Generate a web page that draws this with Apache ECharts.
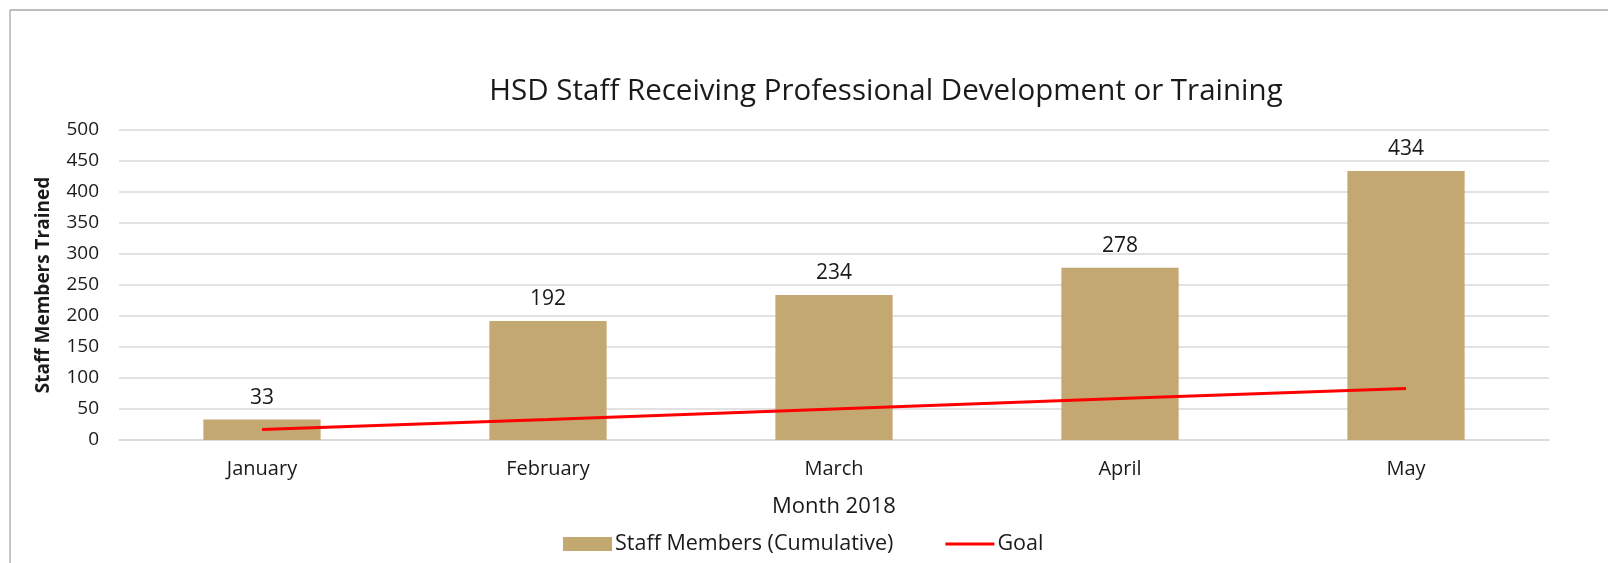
<!DOCTYPE html>
<html>
<head>
<meta charset="utf-8">
<script src="https://cdn.jsdelivr.net/npm/echarts@6/dist/echarts.min.js"></script>
<style>
  html, body { margin: 0; padding: 0; background: #fff; }
  #chart { width: 1608px; height: 563px; }
</style>
</head>
<body>
<div id="chart"></div>
<script>
const months = ['January', 'February', 'March', 'April', 'May']
const staffTrained = [33, 192, 234, 278, 434]
const goal = [17, 33, 50, 67, 83]
const yTicks = { min: 0, max: 500, interval: 50 }

const font = '"Open Sans", Lato, sans-serif'
const chart = echarts.init(document.getElementById('chart'))

chart.setOption({
  animation: false,
  backgroundColor: '#fff',
  textStyle: { fontFamily: font },
  title: {
    text: 'HSD Staff Receiving Professional Development or Training',
    left: 881,
    textAlign: 'center',
    top: 72,
    textStyle: { fontFamily: font, fontSize: 29.5, fontWeight: 'normal', color: '#1a1a1a' }
  },
  graphic: [
    { type: 'line', shape: { x1: 10, y1: 10, x2: 1608, y2: 10 }, style: { stroke: '#a6a6a6', lineWidth: 1.3 } },
    { type: 'line', shape: { x1: 10, y1: 10, x2: 10, y2: 563 }, style: { stroke: '#a6a6a6', lineWidth: 1.3 } }
  ],
  legend: {
    bottom: 3,
    left: 558,
    itemGap: 52,
    itemWidth: 49,
    itemHeight: 14,
    textStyle: { fontFamily: font, fontSize: 21.5, color: '#1a1a1a', padding: [0, 0, 0, -2] },
    data: [
      { name: 'Staff Members (Cumulative)', icon: 'rect' },
      { name: 'Goal', icon: 'path://M0,6 L50,6 L50,9 L0,9 Z' }
    ]
  },
  grid: { left: 119, right: 59, top: 130, bottom: 123 },
  xAxis: {
    type: 'category',
    data: months,
    name: 'Month 2018',
    nameLocation: 'middle',
    nameGap: 56,
    nameTextStyle: { fontFamily: font, fontSize: 22, color: '#1a1a1a' },
    axisLine: { lineStyle: { color: '#d9d9d9', width: 1.5 } },
    axisTick: { show: false },
    axisLabel: { margin: 19, fontSize: 20, color: '#1a1a1a', fontFamily: font }
  },
  yAxis: {
    type: 'value',
    min: yTicks.min,
    max: yTicks.max,
    interval: yTicks.interval,
    name: 'Staff Members Trained',
    nameLocation: 'middle',
    nameGap: 66,
    nameTextStyle: { fontFamily: font, fontSize: 19, fontWeight: 'bold', color: '#1a1a1a' },
    axisLine: { show: false },
    axisTick: { show: false },
    splitLine: { lineStyle: { color: '#d9d9d9', width: 1.5 } },
    axisLabel: { margin: 20, fontSize: 19, color: '#1a1a1a', fontFamily: font }
  },
  series: [
    {
      name: 'Staff Members (Cumulative)',
      type: 'bar',
      data: staffTrained,
      barWidth: '41%',
      itemStyle: { color: '#c4a872' },
      label: { show: true, position: 'top', distance: 11, fontSize: 21, color: '#1a1a1a', fontFamily: font }
    },
    {
      name: 'Goal',
      type: 'line',
      data: goal,
      showSymbol: false,
      symbol: 'none',
      lineStyle: { color: '#ff0000', width: 3 },
      itemStyle: { color: '#ff0000' }
    }
  ]
})
</script>
</body>
</html>
